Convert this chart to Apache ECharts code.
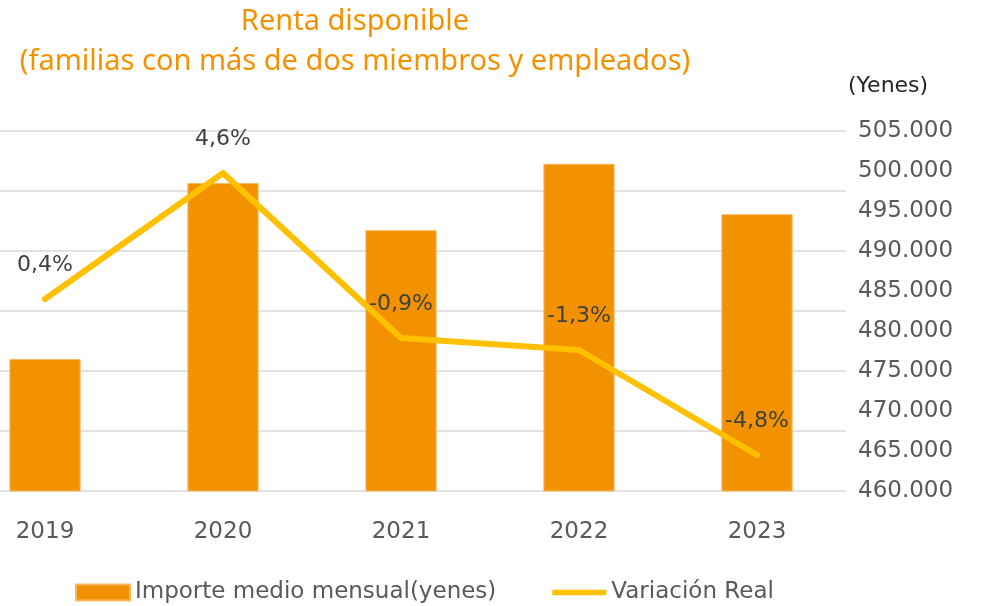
<!DOCTYPE html>
<html>
<head>
<meta charset="utf-8">
<script src="https://cdn.jsdelivr.net/npm/echarts@6/dist/echarts.min.js"></script>
<style>
  html, body { margin: 0; padding: 0; background: #fff; overflow: hidden; }
  /* el grafico original esta recortado por la izquierda: se desplaza el lienzo 44px */
  #chart { width: 1027px; height: 606px; margin-left: -44px; }
</style>
</head>
<body>
<div id="chart"></div>
<script>
// datos
const years = ['2019', '2020', '2021', '2022', '2023'];
const importe = [476500, 498500, 492600, 500900, 494600];   // yenes
const variacion = [0.4, 4.6, -0.9, -1.3, -4.8];               // %

const chart = echarts.init(document.getElementById('chart'));
const shift = 44;
const labelFont = '"DejaVu Sans", sans-serif';

const option = {
  animation: false,
  textStyle: { fontFamily: labelFont },
  title: [
    {
      text: 'Renta disponible\n(familias con más de dos miembros y empleados)',
      left: 350 + shift, top: -3, textAlign: 'center',
      textStyle: { color: '#F39200', fontSize: 29, fontWeight: 'normal', lineHeight: 40, fontFamily: '"Noto Sans", sans-serif' }
    },
    {
      text: '(Yenes)',
      left: 843 + shift, top: 70,
      textStyle: { color: '#262626', fontSize: 22, fontWeight: 'normal', fontFamily: labelFont }
    }
  ],
  legend: {
    top: 581, left: 75 + shift,
    padding: 0,
    itemGap: 56,
    textStyle: { color: '#595959', fontSize: 23, fontFamily: labelFont },
    data: [
      { name: 'Importe medio mensual(yenes)', icon: 'rect', itemStyle: { color: '#F39200' } },
      { name: 'Variación Real', icon: 'path://M0,0 L10,0 L10,1 L0,1 Z' }
    ],
    itemWidth: 54, itemHeight: 16
  },
  grid: { left: 0, right: 137, top: 131, bottom: 115 },
  xAxis: {
    type: 'category',
    data: years,
    axisLine: { show: false },
    axisTick: { show: false },
    axisLabel: { color: '#595959', fontSize: 23, margin: 30 }
  },
  yAxis: [
    {
      type: 'value',
      position: 'right',
      min: 460000, max: 505000, interval: 5000,
      splitLine: { show: false },
      axisLine: { show: false },
      axisTick: { show: false },
      axisLabel: {
        color: '#595959', fontSize: 23, margin: 12,
        formatter: v => String(v).replace(/\B(?=(\d{3})+(?!\d))/g, '.')
      }
    },
    {
      type: 'value',
      min: -6, max: 6, interval: 2,
      position: 'left',
      axisLabel: { show: false },
      axisLine: { show: false },
      axisTick: { show: false },
      splitLine: { show: true, lineStyle: { color: '#D9D9D9', width: 1.5 } }
    }
  ],
  series: [
    {
      name: 'Importe medio mensual(yenes)',
      type: 'bar',
      data: importe,
      barWidth: '40%',
      itemStyle: { color: '#F39200', borderColor: '#F8B860', borderWidth: 1 }
    },
    {
      name: 'Variación Real',
      type: 'line',
      yAxisIndex: 1,
      data: variacion,
      symbol: 'circle',
      symbolSize: 1,
      showSymbol: true,
      lineStyle: { color: '#FFC000', width: 6, cap: 'round', join: 'round' },
      itemStyle: { color: '#FFC000' },
      label: {
        show: true, position: 'top', distance: 22,
        color: '#404040', fontSize: 22, fontFamily: labelFont,
        formatter: p => p.value.toFixed(1).replace('.', ',') + '%'
      },
      labelLayout: { hideOverlap: false },
      z: 5
    }
  ]
};

chart.setOption(option);
</script>
</body>
</html>
